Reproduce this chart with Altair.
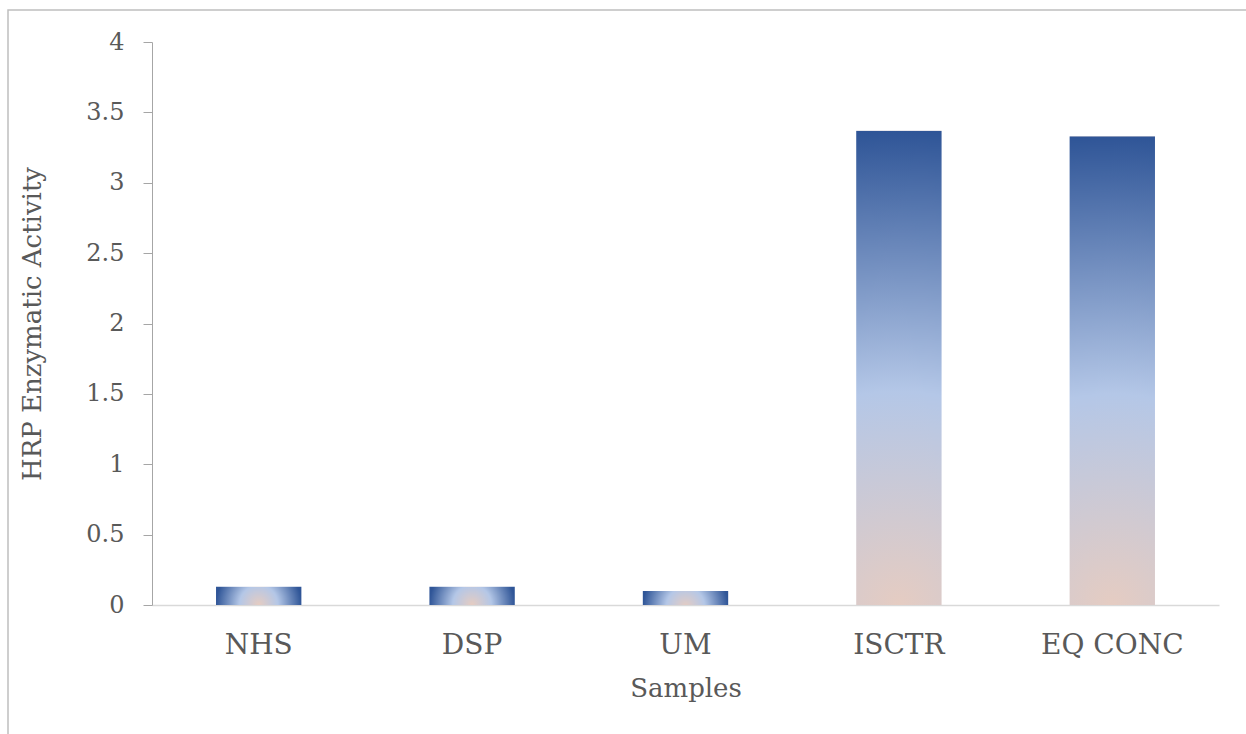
import altair as alt
import pandas as pd

# Sample groups and their measured HRP enzymatic activity
samples = ["NHS", "DSP", "UM", "ISCTR", "EQ CONC"]
activity = [0.13, 0.13, 0.10, 3.37, 3.33]

df = pd.DataFrame({"sample": samples, "activity": activity})

FONT = "DejaVu Serif"
TEXT = "#595959"

PEACH = "#E5CCC2"
LIGHT = "#B4C7E7"
DARK = "#2F5597"

stops = [
    alt.GradientStop(color=PEACH, offset=0),
    alt.GradientStop(color=LIGHT, offset=0.45),
    alt.GradientStop(color=DARK, offset=1),
]

# Radial fill spreading out from the bottom centre of each bar
tall_fill = alt.RadialGradient(
    gradient="radial", stops=stops, x1=0.5, y1=1, r1=0, x2=0.5, y2=1, r2=1
)
short_fill = alt.RadialGradient(
    gradient="radial", stops=stops, x1=0.5, y1=0.6, r1=0, x2=0.5, y2=0.6, r2=0.5
)

x_enc = alt.X(
    "sample:N",
    sort=samples,
    title="Samples",
    scale=alt.Scale(paddingInner=0.6, paddingOuter=0.3),
    axis=alt.Axis(
        labelAngle=0,
        ticks=False,
        labelPadding=26,
        labelFontSize=28,
        titleFontSize=26,
        titlePadding=16,
        domainColor="#D9D9D9",
        domainWidth=1.5,
    ),
)
y_enc = alt.Y(
    "activity:Q",
    title="HRP Enzymatic Activity",
    scale=alt.Scale(domain=[0, 4], nice=False),
    axis=alt.Axis(
        values=[0, 0.5, 1, 1.5, 2, 2.5, 3, 3.5, 4],
        labelExpr="datum.value",
        grid=False,
        tickSize=9,
        tickColor="#A6A6A6",
        domainColor="#A6A6A6",
        labelPadding=19,
        labelFontSize=24,
        titleFontSize=26,
        titlePadding=40,
    ),
)

base = alt.Chart(df)

tall_bars = base.transform_filter("datum.activity >= 1").mark_bar(
    fill=tall_fill, strokeWidth=0
).encode(x=x_enc, y=y_enc)

short_bars = base.transform_filter("datum.activity < 1").mark_bar(
    fill=short_fill, strokeWidth=0
).encode(x=x_enc, y=y_enc)

# Outer frame of the chart area
frame = alt.Chart(alt.Data(values=[{"k": 0}])).mark_rect(
    fill="transparent", stroke="#BFBFBF", strokeWidth=1.5
).encode(
    x=alt.value(-144),
    y=alt.value(-32),
    x2=alt.value(1300),
    y2=alt.value(800),
)

chart = (
    alt.layer(frame, tall_bars, short_bars)
    .properties(
        width=1067,
        height=563,
        autosize=alt.AutoSizeParams(type="none"),
        padding={"left": 152, "top": 42, "right": 27, "bottom": 129},
        background="white",
    )
    .configure(font=FONT)
    .configure_axis(
        labelFont=FONT,
        titleFont=FONT,
        labelColor=TEXT,
        titleColor=TEXT,
        titleFontWeight="normal",
    )
    .configure_view(strokeWidth=0)
)

chart.save("out.html", embed_options={"renderer": "svg", "actions": False})
